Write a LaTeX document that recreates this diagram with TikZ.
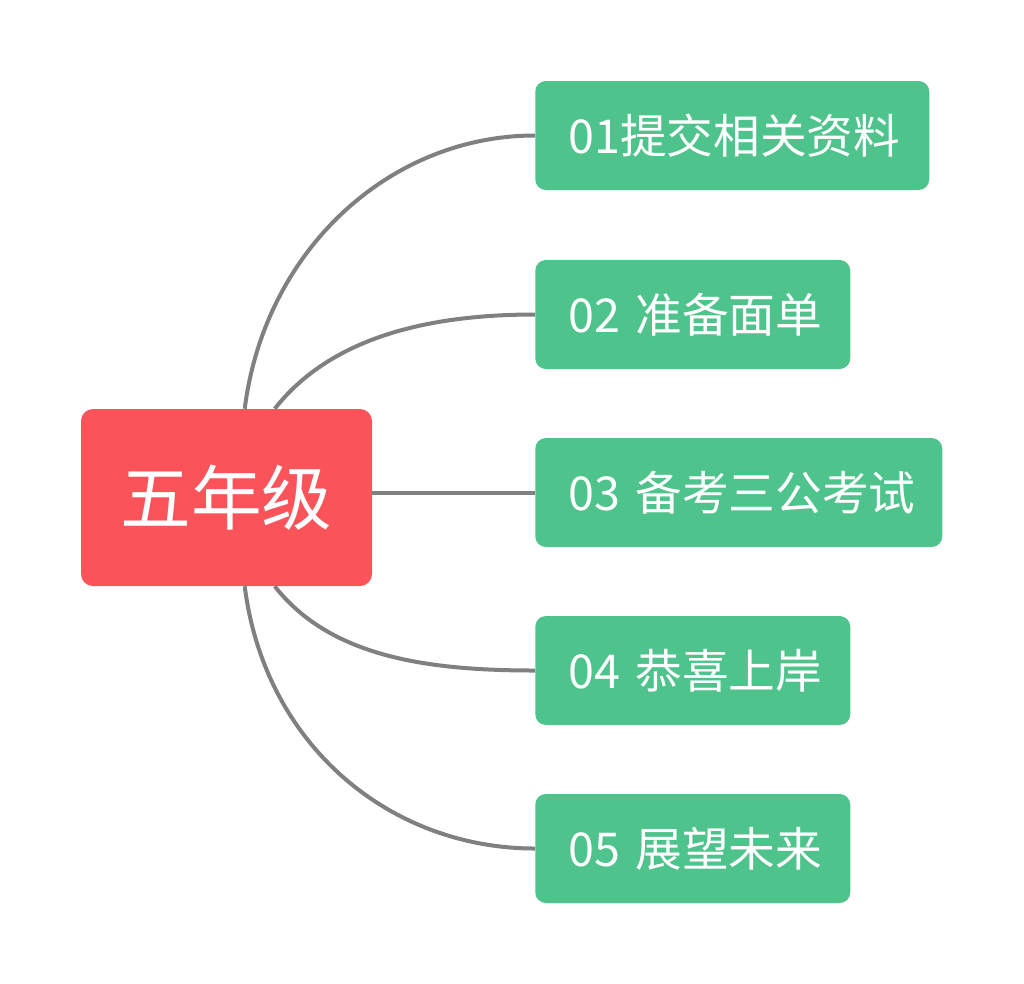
\documentclass[tikz,border=0pt]{standalone}
\usepackage{fontspec}
\setmainfont{Noto Sans CJK SC}
\usetikzlibrary{calc}
\definecolor{rootred}{HTML}{FA545A}
\definecolor{leafgreen}{HTML}{4EC38B}
\definecolor{linkgray}{HTML}{808080}
\begin{document}
\begin{tikzpicture}[x=0.75pt,y=-0.75pt,
  root/.style={fill=rootred,rounded corners=9pt,minimum width=218.25pt,minimum height=132.75pt,inner sep=0pt,text=white,font=\fontsize{53}{60}\selectfont},
  leaf/.style={fill=leafgreen,rounded corners=8pt,anchor=west,minimum height=81.75pt,inner xsep=24.75pt,inner ysep=0pt,align=left,text=white,font=\fontsize{35}{40}\selectfont},
  link/.style={draw=linkgray,line width=3pt}]
\useasboundingbox (0,0) rectangle (1024,983);
\fill[white] (0,0) rectangle (1024,983);
\node[root] (c) at (226.5,497.5) {五年级};
\node[leaf,text width=246pt] (a1) at (535,135.5) {\mbox{01提交相关资料}};
\node[leaf,text width=186.75pt] (a2) at (535,314.5) {\mbox{02 准备面单}};
\node[leaf,text width=255.75pt] (a3) at (535,492.5) {\mbox{03 备考三公考试}};
\node[leaf,text width=186.75pt] (a4) at (535,670.5) {\mbox{04 恭喜上岸}};
\node[leaf,text width=186.75pt] (a5) at (535,848.5) {\mbox{05 展望未来}};
\draw[link] ($(c.north west)+(164,0)$) .. controls ($(c.north west)+(184,-159)$) and ($(a1.west)+(-145,0)$) .. (a1.west);
\draw[link] ($(c.north west)+(194,0)$) .. controls ($(c.north west)+(249,-70)$) and ($(a2.west)+(-110,0)$) .. (a2.west);
\draw[link] (c.east |- a3.west) -- (a3.west);
\draw[link] ($(c.south west)+(194,0)$) .. controls ($(c.south west)+(249,70)$) and ($(a4.west)+(-110,0)$) .. (a4.west);
\draw[link] ($(c.south west)+(164,0)$) .. controls ($(c.south west)+(184,159)$) and ($(a5.west)+(-145,0)$) .. (a5.west);
\end{tikzpicture}
\end{document}
